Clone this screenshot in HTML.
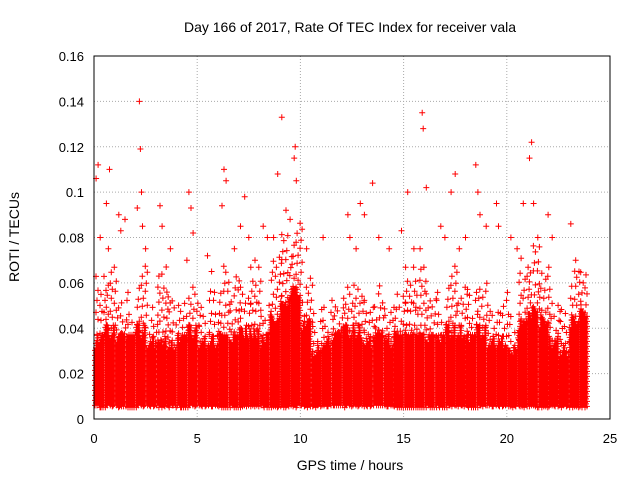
<!DOCTYPE html>
<html><head><meta charset="utf-8"><style>
body{margin:0;background:#fff;width:640px;height:480px;overflow:hidden;font-family:"Liberation Sans",sans-serif}
</style></head><body>
<svg id="chart" width="640" height="480" xmlns="http://www.w3.org/2000/svg" font-family="Liberation Sans, sans-serif" font-size="13">
<text x="350" y="32" text-anchor="middle" font-size="14">Day 166 of 2017, Rate Of TEC Index for receiver vala</text>
<text x="350" y="470" text-anchor="middle" font-size="14">GPS time / hours</text>
<text transform="translate(19,237) rotate(-90)" text-anchor="middle" font-size="14">ROTI / TECUs</text>
<g id="grid"></g>
<g id="ticks"></g>
<path id="dense" fill="none" stroke="#f00" stroke-width="1"/>
<path id="sparse" fill="none" stroke="#f00" stroke-width="1"/>
<path id="outl" fill="none" stroke="#f00" stroke-width="1"/>
<rect x="94" y="56" width="516" height="363" fill="none" stroke="#000" stroke-width="1"/>
</svg>
<script>
const xTicks=[0,5,10,15,20,25];
const yTicks=[0,0.02,0.04,0.06,0.08,0.1,0.12,0.14,0.16];
const yTickLabels=["0","0.02","0.04","0.06","0.08","0.1","0.12","0.14","0.16"];
const binHours=[0,0.5,1,1.5,2,2.5,3,3.5,4,4.5,5,5.5,6,6.5,7,7.5,8,8.5,9,9.5,10,10.5,11,11.5,12,12.5,13,13.5,14,14.5,15,15.5,16,16.5,17,17.5,18,18.5,19,19.5,20,20.5,21,21.5,22,22.5,23,23.5];
const binEnd=[0.5,1,1.5,2,2.5,3,3.5,4,4.5,5,5.5,6,6.5,7,7.5,8,8.5,9,9.5,10,10.5,11,11.5,12,12.5,13,13.5,14,14.5,15,15.5,16,16.5,17,17.5,18,18.5,19,19.5,20,20.5,21,21.5,22,22.5,23,23.5,23.9];
const denseTop=[0.032,0.036,0.034,0.032,0.036,0.032,0.033,0.03,0.032,0.036,0.032,0.032,0.036,0.034,0.036,0.036,0.032,0.04,0.05,0.055,0.04,0.028,0.032,0.034,0.036,0.036,0.032,0.034,0.032,0.036,0.036,0.036,0.034,0.032,0.036,0.036,0.032,0.036,0.032,0.032,0.028,0.04,0.045,0.04,0.032,0.028,0.04,0.045];
const midTop=[0.065,0.07,0.06,0.058,0.07,0.058,0.065,0.06,0.06,0.07,0.058,0.06,0.07,0.065,0.068,0.07,0.06,0.075,0.085,0.09,0.07,0.05,0.055,0.06,0.07,0.065,0.058,0.065,0.058,0.065,0.07,0.068,0.062,0.058,0.07,0.068,0.058,0.065,0.058,0.06,0.05,0.075,0.08,0.075,0.06,0.05,0.07,0.065];
const outT=[0.1,0.2,0.3,0.6,0.7,0.75,1.2,1.3,1.5,2.1,2.2,2.25,2.3,2.35,2.5,3.2,3.3,3.5,3.7,4.5,4.6,4.7,4.8,5.5,5.7,6.2,6.3,6.4,6.8,7.1,7.3,7.5,7.8,8.2,8.4,8.7,8.9,9.1,9.3,9.5,9.7,9.75,9.8,10.3,11.1,12.3,12.4,12.7,12.9,13.1,13.5,13.8,14.3,14.9,15.2,15.5,15.8,15.9,15.95,16.1,16.8,17.0,17.3,17.5,17.7,18.0,18.5,18.6,18.7,19.0,19.5,19.6,20.2,20.5,20.8,21.1,21.2,21.3,21.5,22.0,22.2,23.1,23.5,23.7];
const outV=[0.106,0.112,0.08,0.095,0.075,0.11,0.09,0.083,0.088,0.093,0.14,0.119,0.1,0.085,0.075,0.094,0.085,0.067,0.075,0.07,0.1,0.093,0.082,0.072,0.065,0.094,0.11,0.105,0.075,0.085,0.098,0.08,0.07,0.085,0.08,0.08,0.108,0.133,0.092,0.088,0.115,0.12,0.105,0.075,0.08,0.09,0.08,0.075,0.095,0.09,0.104,0.08,0.075,0.083,0.1,0.075,0.075,0.135,0.128,0.102,0.085,0.08,0.1,0.108,0.075,0.08,0.112,0.1,0.09,0.085,0.095,0.085,0.08,0.075,0.095,0.115,0.122,0.095,0.08,0.09,0.08,0.086,0.065,0.06];
const JIT=[0,5,2,7,3,9,1,6,4,8,2,5,0,7,3]; // layout jitter pattern (pixels)
const X=t=>94+t*516/25, Y=v=>419-v*363/0.16;
const NS="http://www.w3.org/2000/svg";
const grid=document.getElementById('grid'), ticks=document.getElementById('ticks');
xTicks.forEach(t=>{
 if(t>0&&t<25){const l=document.createElementNS(NS,'line');
 
 
 l.setAttribute('x1',X(t));l.setAttribute('x2',X(t));l.setAttribute('y1',56);l.setAttribute('y2',419);
 l.setAttribute('stroke','#aaa');l.setAttribute('stroke-dasharray','1,2');grid.appendChild(l);}
 const tx=document.createElementNS(NS,'text');
 
 
 tx.setAttribute('x',X(t));tx.setAttribute('y',443);tx.setAttribute('text-anchor','middle');tx.textContent=t;ticks.appendChild(tx);
});
yTicks.forEach((v,i)=>{
 if(i>0&&i<yTicks.length-1){const l=document.createElementNS(NS,'line');
 
 
 l.setAttribute('x1',94);l.setAttribute('x2',610);l.setAttribute('y1',Y(v));l.setAttribute('y2',Y(v));
 l.setAttribute('stroke','#aaa');l.setAttribute('stroke-dasharray','1,2');grid.appendChild(l);}
 const tx=document.createElementNS(NS,'text');
 
 
 tx.setAttribute('x',84);tx.setAttribute('y',Y(v)+5);tx.setAttribute('text-anchor','end');tx.textContent=yTickLabels[i];ticks.appendChild(tx);
});
const plus=(x,y)=>`M${(x-3).toFixed(1)} ${y.toFixed(1)}h6M${x.toFixed(1)} ${(y-3).toFixed(1)}v6`;
let d='',s='',o='';
let k=0;
binHours.forEach((h,i)=>{
 const x0=X(h), x1=X(binEnd[i]), yb=Y(0.006), yt=Y(denseTop[i]), ym=Y(midTop[i]);
 for(let x=x0+1;x<x1;x+=2){
  const top=yt-JIT[k%JIT.length]*1.5;
  for(let y=yb+(k%3);y>=top;y-=2.5){d+=plus(x+((k++)%2),y);}
 }
 let j=i;
 for(let x=x0+2;x<x1;x+=4){
  const top=ym+JIT[(j*7)%JIT.length]*4;
  for(let y=yt-3-JIT[j%JIT.length];y>=top;y-=6+JIT[(j+3)%JIT.length]){s+=plus(x+(j%3),y);j++;}
  j++;
 }
});
outT.forEach((t,i)=>{o+=plus(X(t),Y(outV[i]));});
document.getElementById('dense').setAttribute('d',d);
document.getElementById('sparse').setAttribute('d',s);
document.getElementById('outl').setAttribute('d',o);
</script>
</body></html>
